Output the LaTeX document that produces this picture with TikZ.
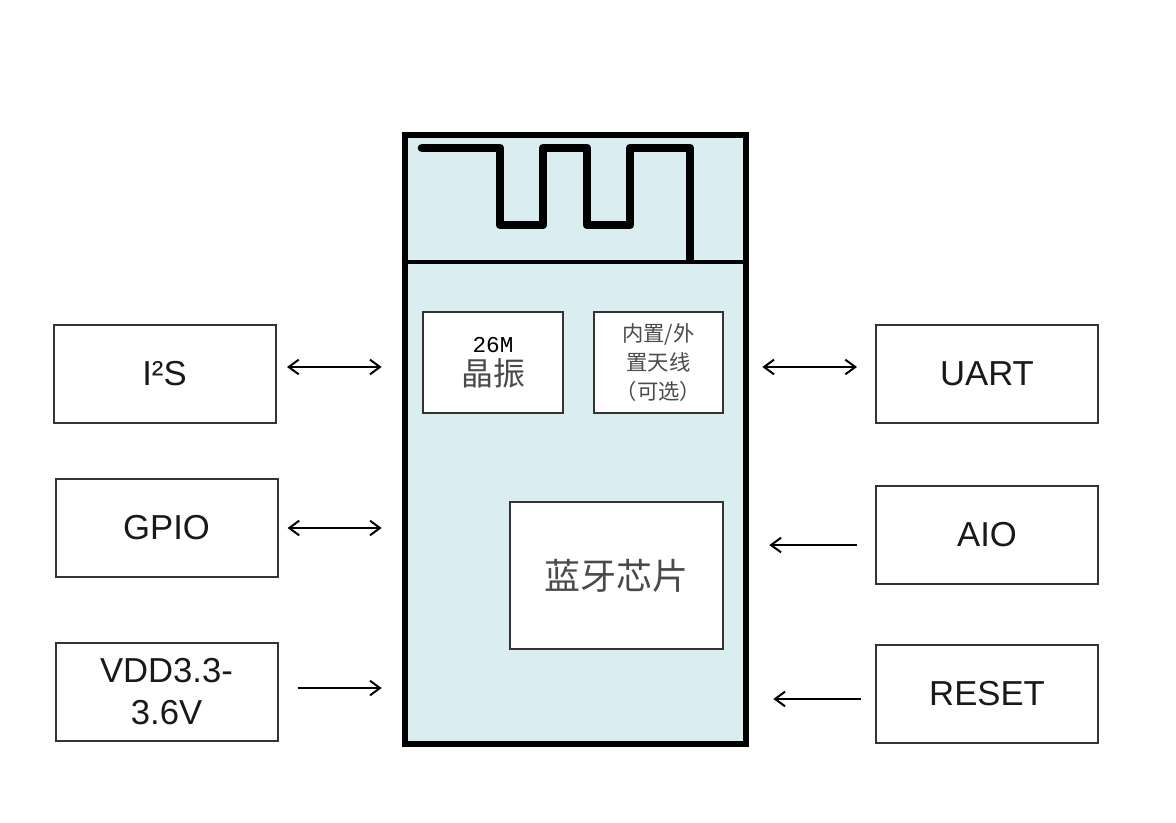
\documentclass[tikz,border=0pt]{standalone}
\usepackage{fontspec}
\setmainfont{Liberation Sans}
\newfontfamily\cjk{Noto Sans CJK SC}
\newfontfamily\xtalfont{Liberation Mono}
\usepackage{xcolor}
\usetikzlibrary{arrows.meta}
\definecolor{modfill}{HTML}{DAEDF1}
\definecolor{boxline}{HTML}{333333}
\definecolor{txtgray}{HTML}{4A4A4A}

\begin{document}
\begin{tikzpicture}[
  x=0.75pt,y=-0.75pt,
  port/.style={draw=boxline,line width=1.5pt,fill=white,minimum width=166.5pt,
               minimum height=73.5pt,align=center,text=black!90,
               font=\fontsize{26}{31.5}\selectfont},
  module/.style={draw,line width=5pt,fill=modfill,minimum width=255.75pt,
                 minimum height=456.75pt},
  part/.style={draw=boxline,line width=1.5pt,fill=white,align=center,text=txtgray},
  trace/.style={line width=6.5pt,line cap=round,line join=round},
  biarr/.style={{Straight Barb[length=7.5pt,width=11pt]}-{Straight Barb[length=7.5pt,width=11pt]},
                line width=1.5pt},
  arr/.style={-{Straight Barb[length=7.5pt,width=11pt]},line width=1.5pt}
]
\useasboundingbox (0,0) rectangle (1176,823);

% module with antenna trace
\node[module] (module) at (575.5,439.5) {};
\draw[trace] (422,148) -| (500,225) -| (543,148) -| (587,225) -| (630,148) -| (690,259);
\draw[line width=3pt] (module.west |- 0,262) -- (module.east |- 0,262);

\node[part,minimum width=105pt,minimum height=75.75pt,
      font=\cjk\fontsize{24}{25}\selectfont] (xtal) at (493,362.5)
  {{\xtalfont\fontsize{17}{20}\selectfont\color{black}26M}\\晶振};
\node[part,minimum width=96.75pt,minimum height=75.75pt,
      font=\cjk\fontsize{16}{21.5}\selectfont] (ant) at (658.5,362.5) {内置/外\\置天线\\（可选）};
\node[part,minimum width=159.75pt,minimum height=110.25pt,
      font=\cjk\fontsize{27}{30}\selectfont] (chip) at (616.5,575.5) {蓝牙芯片};

% interfaces
\node[port] (i2s) at (164.5,374) {I²S};
\node[port] (gpio) at (166.5,528) {GPIO};
\node[port] (vdd) at (166.5,691.5) {VDD3.3-\\3.6V};
\node[port] (uart) at (987,374) {UART};
\node[port] (aio) at (987,534.5) {AIO};
\node[port] (reset) at (987,693.5) {RESET};

\draw[biarr,shorten <=7.9pt,shorten >=15pt,transform canvas={yshift=5.25pt}]
  (i2s.east) -- (i2s.east -| module.west);
\draw[biarr,shorten <=6.75pt,shorten >=15pt] (gpio.east) -- (gpio.east -| module.west);
\draw[arr,shorten <=14.25pt,shorten >=15pt,transform canvas={yshift=2.6pt}]
  (vdd.east) -- (vdd.east -| module.west);
\draw[biarr,shorten <=13.5pt,shorten >=9.75pt,transform canvas={yshift=5.25pt}]
  (uart.west) -- (uart.west -| module.east);
\draw[arr,shorten <=13.5pt,shorten >=15pt,transform canvas={yshift=-7.9pt}]
  (aio.west) -- (aio.west -| module.east);
\draw[arr,shorten <=10.5pt,shorten >=18pt,transform canvas={yshift=-4.1pt}]
  (reset.west) -- (reset.west -| module.east);
\end{tikzpicture}
\end{document}
